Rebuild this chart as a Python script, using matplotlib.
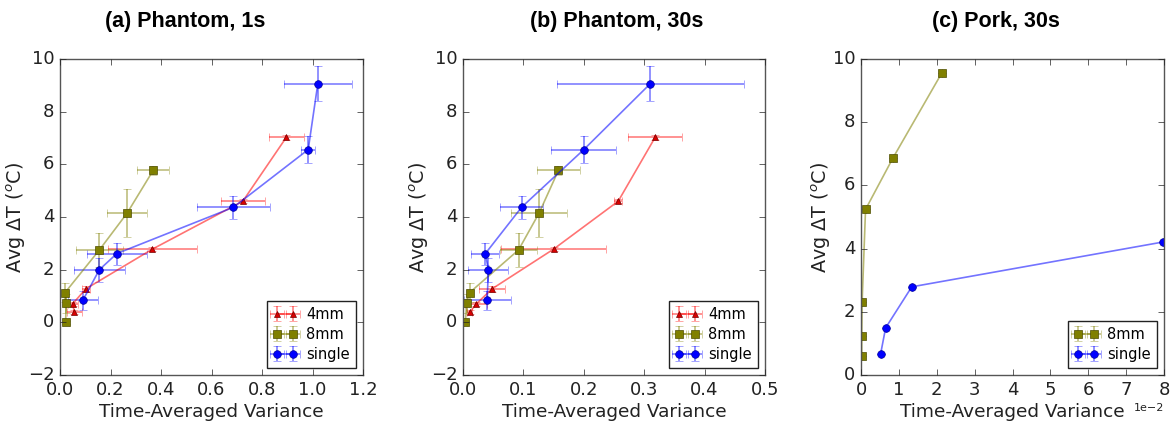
import matplotlib
matplotlib.use("Agg")
import matplotlib.pyplot as plt

plt.style.use('classic')
plt.rcParams['font.family'] = ['DejaVu Sans']
plt.rcParams['mathtext.fontset'] = 'dejavusans'

# ---------------- data ----------------
# (a) Phantom, 1s
a_4mm_x = [0.057, 0.050, 0.102, 0.366, 0.724, 0.896]
a_4mm_y = [0.38, 0.70, 1.27, 2.78, 4.60, 7.02]
a_4mm_xerr = [0.030, 0.020, 0.015, 0.175, 0.087, 0.070]
a_4mm_yerr = [0.08, 0.08, 0.10, 0.08, 0.08, 0.08]

a_8mm_x = [0.022, 0.025, 0.020, 0.156, 0.266, 0.369]
a_8mm_y = [0.00, 0.72, 1.13, 2.75, 4.15, 5.77]
a_8mm_xerr = [0.012, 0.010, 0.010, 0.093, 0.078, 0.063]
a_8mm_yerr = [0.05, 0.35, 0.35, 0.65, 0.90, 0.17]

a_sgl_x = [0.090, 0.156, 0.225, 0.687, 0.983, 1.021]
a_sgl_y = [0.83, 2.00, 2.61, 4.37, 6.56, 9.06]
a_sgl_xerr = [0.060, 0.100, 0.120, 0.145, 0.028, 0.135]
a_sgl_yerr = [0.35, 0.45, 0.42, 0.43, 0.52, 0.67]

# (b) Phantom, 30s
b_4mm_x = [0.011, 0.022, 0.048, 0.150, 0.257, 0.318]
b_4mm_y = [0.38, 0.70, 1.27, 2.78, 4.60, 7.02]
b_4mm_xerr = [0.004, 0.018, 0.021, 0.087, 0.007, 0.045]
b_4mm_yerr = [0.08, 0.08, 0.10, 0.08, 0.08, 0.08]

b_8mm_x = [0.004, 0.006, 0.011, 0.092, 0.126, 0.158]
b_8mm_y = [0.00, 0.72, 1.13, 2.75, 4.15, 5.77]
b_8mm_xerr = [0.002, 0.004, 0.004, 0.030, 0.047, 0.035]
b_8mm_yerr = [0.05, 0.35, 0.35, 0.65, 0.90, 0.17]

b_sgl_x = [0.040, 0.042, 0.037, 0.097, 0.200, 0.310]
b_sgl_y = [0.83, 2.00, 2.61, 4.37, 6.56, 9.06]
b_sgl_xerr = [0.039, 0.033, 0.023, 0.036, 0.054, 0.155]
b_sgl_yerr = [0.35, 0.45, 0.42, 0.43, 0.52, 0.67]

# (c) Pork, 30s
c_8mm_x = [0.0002, 0.0002, 0.0003, 0.0012, 0.0084, 0.0213]
c_8mm_y = [0.61, 1.25, 2.32, 5.24, 6.86, 9.55]
c_sgl_x = [0.0052, 0.0065, 0.0134, 0.0798]
c_sgl_y = [0.68, 1.49, 2.79, 4.21]

titles = ['(a) Phantom, 1s', '(b) Phantom, 30s', '(c) Pork, 30s']
xlabel = 'Time-Averaged Variance'
ylabel = r'Avg $\Delta$T ($^o$C)'

# ---------------- figure ----------------
fig = plt.figure(figsize=(11.7, 4.24), dpi=100, facecolor='white')
W, H = 1170.0, 424.0
boxes = [(60, 363), (463, 765), (861, 1164)]
top, bot = 59, 375
axes = []
for (l, r) in boxes:
    ax = fig.add_axes([l / W, (H - bot) / H, (r - l) / W, (bot - top) / H])
    axes.append(ax)

styles = {
    '4mm': dict(fmt='-^', color=(1, 0, 0, 0.55), ecolor=(1, 0, 0, 0.5),
                mfc=(0.85, 0, 0, 1), mec=(0.45, 0, 0, 1), ms=5),
    '8mm': dict(fmt='-s', color=(0.5, 0.5, 0, 0.55), ecolor=(0.5, 0.5, 0, 0.5),
                mfc=(0.5, 0.5, 0, 1), mec=(0.3, 0.3, 0, 1), ms=5.5),
    'single': dict(fmt='-o', color=(0, 0, 1, 0.55), ecolor=(0, 0, 1, 0.5),
                   mfc=(0, 0, 1, 1), mec=(0, 0, 0.6, 1), ms=5.5),
}

def draw(ax, x, y, xe, ye, key):
    s = styles[key]
    ax.errorbar(x, y, xerr=xe, yerr=ye, fmt=s['fmt'], color=s['color'],
                ecolor=s['ecolor'], mfc=s['mfc'], mec=s['mec'], mew=0.5,
                ms=s['ms'], lw=1.2, elinewidth=1.2, capsize=3, capthick=1.0,
                label=key)

ax = axes[0]
draw(ax, a_4mm_x, a_4mm_y, a_4mm_xerr, a_4mm_yerr, '4mm')
draw(ax, a_8mm_x, a_8mm_y, a_8mm_xerr, a_8mm_yerr, '8mm')
draw(ax, a_sgl_x, a_sgl_y, a_sgl_xerr, a_sgl_yerr, 'single')
ax.set_xlim(0, 1.2)
ax.set_ylim(-2, 10)

ax = axes[1]
draw(ax, b_4mm_x, b_4mm_y, b_4mm_xerr, b_4mm_yerr, '4mm')
draw(ax, b_8mm_x, b_8mm_y, b_8mm_xerr, b_8mm_yerr, '8mm')
draw(ax, b_sgl_x, b_sgl_y, b_sgl_xerr, b_sgl_yerr, 'single')
ax.set_xlim(0, 0.5)
ax.set_ylim(-2, 10)

ax = axes[2]
draw(ax, c_8mm_x, c_8mm_y, [0] * len(c_8mm_x), [0] * len(c_8mm_y), '8mm')
draw(ax, c_sgl_x, c_sgl_y, [0] * len(c_sgl_x), [0] * len(c_sgl_y), 'single')
ax.set_xlim(0, 0.08)
ax.set_ylim(0, 10)
ax.ticklabel_format(axis='x', style='sci', scilimits=(0, 0))
ax.xaxis.get_offset_text().set_fontsize(8)

title_x = [185, 617, 996]
for ax, t, tx in zip(axes, titles, title_x):
    ax.set_xlabel(xlabel, fontsize=13.3, color='#222222', labelpad=3)
    ax.set_ylabel(ylabel, fontsize=13.8, color='#222222', labelpad=0)
    ax.tick_params(labelsize=13, colors='#222222')
    for sp in ax.spines.values():
        sp.set_color('#555555')
    leg = ax.legend(loc='lower right', numpoints=2, fontsize=10.5,
                    handlelength=1.7, borderpad=0.4, labelspacing=0.35,
                    handletextpad=0.6)
    leg.get_frame().set_edgecolor('#222222')
    fig.text(tx / W, 1 - 22 / H, t, ha='center', va='center', fontsize=15.5,
             fontweight='bold', family=['Liberation Sans Narrow', 'Liberation Sans', 'DejaVu Sans'])

fig.savefig('out.png', dpi=100, facecolor='white')
